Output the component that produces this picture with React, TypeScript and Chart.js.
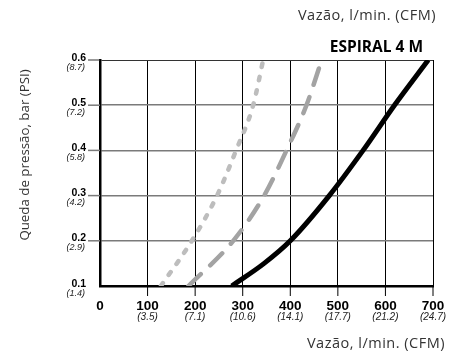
import React, { useEffect, useRef } from "react";
import { Chart, registerables } from "chart.js";

Chart.register(...registerables);

// ---- data ----
const xTicks = [0, 100, 200, 300, 400, 500, 600, 700];
const xTickCfm = ["", "(3.5)", "(7.1)", "(10.6)", "(14.1)", "(17.7)", "(21.2)", "(24.7)"];
const yTicks = [0.1, 0.2, 0.3, 0.4, 0.5, 0.6];
const yTickPsi = ["(1.4)", "(2.9)", "(4.2)", "(5.8)", "(7.2)", "(8.7)"];

const flowSolid = [277, 345, 400, 482, 553, 619, 690];
const dropSolid = [0.1, 0.15, 0.2, 0.3, 0.4, 0.5, 0.6];
const flowDashed = [186, 280, 345, 392, 434, 466];
const dropDashed = [0.1, 0.2, 0.3, 0.4, 0.5, 0.6];
const flowDotted = [128, 193, 246, 286, 322, 343];
const dropDotted = [0.1, 0.2, 0.3, 0.4, 0.5, 0.6];

const chartTitle = "ESPIRAL 4 M";
const xAxisTitle = "Vazão, l/min. (CFM)";
const yAxisTitle = "Queda de pressão, bar (PSI)";

const toPoints = (xs: number[], ys: number[]) => xs.map((x, i) => ({ x, y: ys[i] }));

const TICK_FONT = '"Liberation Sans", Arial, sans-serif';
const TEXT_FONT = '"Open Sans", "Noto Sans", sans-serif';

const decorPlugin = {
  id: "decor",
  afterDraw(chart: any) {
    const ctx = chart.ctx as CanvasRenderingContext2D;
    const xs = chart.scales.x;
    const ys = chart.scales.y;
    const area = chart.chartArea;
    ctx.save();
    // y tick marks + labels
    yTicks.forEach((v, i) => {
      const py = ys.getPixelForValue(v);
      if (i > 0) {
        ctx.strokeStyle = v === 0.6 ? "#333" : "#7a7a7a";
        ctx.lineWidth = v === 0.6 ? 1 : 1.5;
        ctx.beginPath();
        ctx.moveTo(88, py);
        ctx.lineTo(area.left, py);
        ctx.stroke();
      }
      ctx.fillStyle = "#000";
      ctx.textAlign = "right";
      ctx.textBaseline = "alphabetic";
      ctx.font = `bold 10.5px ${TICK_FONT}`;
      ctx.fillText(v.toFixed(1), 86, py + 0.5);
      ctx.font = `italic 9px ${TICK_FONT}`;
      ctx.fillStyle = "#222";
      ctx.fillText(yTickPsi[i], 85, py + 9.5);
    });
    // x tick marks + labels
    xTicks.forEach((v, i) => {
      const px = xs.getPixelForValue(v);
      if (i > 0) {
        ctx.strokeStyle = "#000";
        ctx.lineWidth = 1;
        ctx.beginPath();
        ctx.moveTo(px, area.bottom);
        ctx.lineTo(px, area.bottom + 10);
        ctx.stroke();
      }
      ctx.fillStyle = "#000";
      ctx.textAlign = "center";
      ctx.textBaseline = "alphabetic";
      ctx.font = `bold 13.5px ${TICK_FONT}`;
      ctx.fillText(String(v), px, 310);
      if (xTickCfm[i]) {
        ctx.font = `italic 10px ${TICK_FONT}`;
        ctx.fillStyle = "#222";
        ctx.fillText(xTickCfm[i], px, 319.5);
      }
    });
    // titles
    ctx.fillStyle = "#333";
    ctx.textAlign = "right";
    ctx.font = `14.5px ${TEXT_FONT}`;
    (ctx as any).letterSpacing = "0.5px";
    ctx.fillText(xAxisTitle, 436, 20);
    ctx.fillText(xAxisTitle, 445, 347.5);
    (ctx as any).letterSpacing = "0px";
    ctx.fillStyle = "#000";
    ctx.font = `bold 15.5px ${TEXT_FONT}`;
    ctx.fillText(chartTitle, 423, 52);
    // y axis title
    ctx.save();
    ctx.translate(29, 155);
    ctx.rotate(-Math.PI / 2);
    ctx.textAlign = "center";
    ctx.fillStyle = "#333";
    ctx.font = `13.3px ${TEXT_FONT}`;
    ctx.fillText(yAxisTitle, 0, 0);
    ctx.restore();
    ctx.restore();
  },
};

export default function App() {
  const ref = useRef<HTMLCanvasElement | null>(null);
  useEffect(() => {
    document.body.style.margin = "0";
    const canvas = ref.current!;
    const chart = new Chart(canvas, {
      type: "line",
      data: {
        datasets: [
          {
            data: toPoints(flowDotted, dropDotted),
            borderColor: "#bdbdbd",
            borderWidth: 4.5,
            borderDash: [3.5, 10],
            borderCapStyle: "round",
            cubicInterpolationMode: "monotone",
            pointRadius: 0,
            clip: 0,
          },
          {
            data: toPoints(flowDashed, dropDashed),
            borderColor: "#a3a3a3",
            borderWidth: 4.5,
            borderDash: [17, 13],
            borderCapStyle: "round",
            cubicInterpolationMode: "monotone",
            pointRadius: 0,
            clip: 0,
          },
          {
            data: toPoints(flowSolid, dropSolid),
            borderColor: "#000",
            borderWidth: 5,
            cubicInterpolationMode: "monotone",
            pointRadius: 0,
            clip: 0,
          },
        ] as any,
      },
      options: {
        animation: false,
        responsive: false,
        devicePixelRatio: 1,
        layout: { padding: { left: 100, right: 26, top: 60, bottom: 66 } },
        plugins: { legend: { display: false }, tooltip: { enabled: false } },
        scales: {
          x: {
            type: "linear",
            min: 0,
            max: 700,
            ticks: { display: false, stepSize: 100 },
            grid: { color: "#000", lineWidth: 1, drawTicks: false },
            border: { color: "#000", width: 2.5 },
          },
          y: {
            type: "linear",
            min: 0.1,
            max: 0.6,
            ticks: { display: false, stepSize: 0.1 },
            grid: {
              color: (c: any) => (Math.abs(c.tick.value - 0.6) < 1e-6 ? "#333" : "#7a7a7a"),
              lineWidth: (c: any) => (Math.abs(c.tick.value - 0.6) < 1e-6 ? 1 : 1.5),
              drawTicks: false,
            },
            border: { color: "#000", width: 2.5 },
          },
        },
      },
      plugins: [decorPlugin],
    });
    return () => chart.destroy();
  }, []);
  return (
    <div style={{ width: 459, height: 352 }}>
      <canvas ref={ref} width={459} height={352} style={{ display: "block" }} />
    </div>
  );
}
